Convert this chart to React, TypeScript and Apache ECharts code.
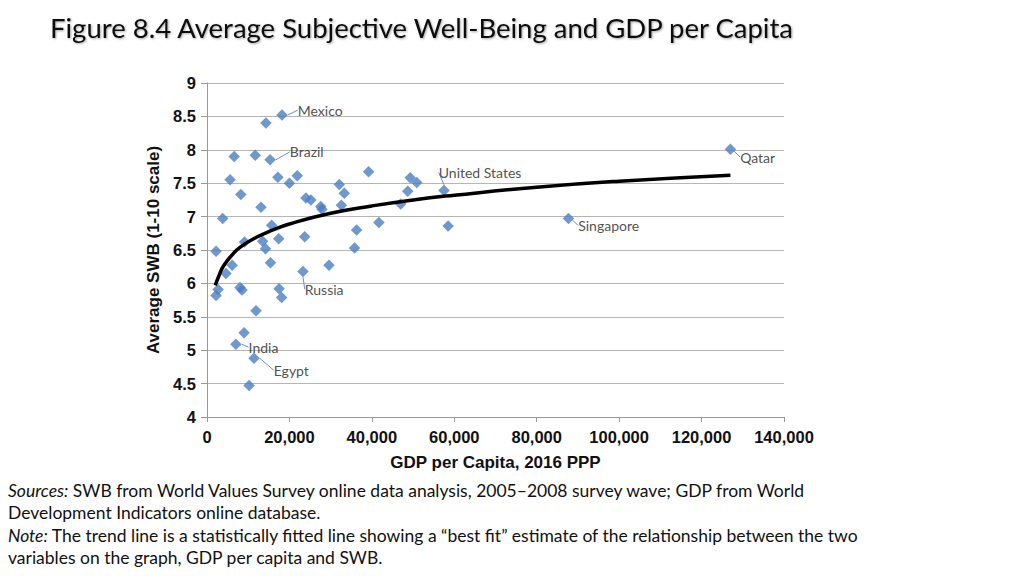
import React, { useEffect, useRef } from "react";
import * as echarts from "echarts";

const titleText = "Figure 8.4 Average Subjective Well-Being and GDP per Capita";
const xAxisName = "GDP per Capita, 2016 PPP";
const yAxisName = "Average SWB (1-10 scale)";

// GDP per capita (2016 PPP) for each country point
const gdp: number[] = [
  18200, 14300, 15300, 6600, 11700, 5600, 8200, 17200, 20000, 21900,
  39200, 3800, 13100, 24000, 25200, 27600, 27900, 32100, 33300, 32600,
  41700, 36300, 15700, 17400, 23700, 13500, 9100, 2200, 14200, 35800,
  6100, 4600, 15400, 23300, 29600, 2700, 2200, 8000, 8500, 17500,
  18100, 11900, 9000, 7000, 11400, 10200, 49300, 50900, 48700, 47000,
  57500, 58500, 127000, 87700,
];
// Average SWB for each country point
const swb: number[] = [
  8.52, 8.4, 7.85, 7.9, 7.92, 7.55, 7.33, 7.59, 7.5, 7.61,
  7.67, 6.97, 7.14, 7.28, 7.25, 7.15, 7.11, 7.48, 7.35, 7.17,
  6.91, 6.8, 6.87, 6.67, 6.7, 6.63, 6.62, 6.48, 6.52, 6.53,
  6.27, 6.15, 6.31, 6.18, 6.27, 5.91, 5.82, 5.94, 5.9, 5.92,
  5.79, 5.59, 5.26, 5.09, 4.88, 4.47, 7.58, 7.51, 7.38, 7.19,
  7.39, 6.86, 8.01, 6.97,
];
// Country names (empty = unlabelled)
const names: string[] = [
  "Mexico", "", "Brazil", "", "", "", "", "", "", "",
  "", "", "", "", "", "", "", "", "", "",
  "", "", "", "", "", "", "", "", "", "",
  "", "", "", "Russia", "", "", "", "", "", "",
  "", "", "", "India", "Egypt", "", "", "", "", "",
  "United States", "", "Qatar", "Singapore",
];

// Trend line
const trendX: number[] = [2000, 3000, 4000, 6000, 8000, 12000, 16000, 20000, 30000, 40000, 50000, 60000, 80000, 100000, 127000];
const trendY: number[] = [5.97, 6.13, 6.26, 6.42, 6.54, 6.69, 6.8, 6.89, 7.05, 7.16, 7.25, 7.32, 7.44, 7.53, 7.62];

const xTicks = { min: 0, max: 140000, interval: 20000 };
const yTicks = { min: 4, max: 9, interval: 0.5 };

const noteLines: string[] = [
  "{i|Sources:} SWB from World Values Survey online data analysis, 2005\u20132008 survey wave; GDP from World",
  "Development Indicators online database.",
  "{i|Note:} The trend line is a statistically fitted line showing a \u201cbest fit\u201d estimate of the relationship between the two",
  "variables on the graph, GDP per capita and SWB.",
];

const labelOffsets: Record<string, [number, number]> = {
  Mexico: [6, -5],
  Brazil: [10, -8],
  "United States": [-15, -18],
  Qatar: [0, 8],
  Singapore: [0, 7],
  Russia: [-8, 18],
  India: [3, 3],
  Egypt: [10, 12],
};

export default function App() {
  const ref = useRef<HTMLDivElement>(null);
  useEffect(() => {
    if (!ref.current) return;
    const chart = echarts.init(ref.current, null, { renderer: "svg" });
    const pts = gdp.map((g, i) =>
      names[i]
        ? {
            value: [g, swb[i]],
            name: names[i],
            label: { show: true },
            labelLine: { show: true, lineStyle: { color: "#6b8fc6", width: 1 } },
          }
        : { value: [g, swb[i]], name: "", label: { show: false }, labelLine: { show: false } }
    );
    const axisLabelStyle = {
      fontFamily: "Liberation Sans, Arial, sans-serif",
      fontWeight: "bold" as const,
      fontSize: 16.5,
      color: "#111",
    };
    const notesFont = 17.5;
    chart.setOption({
      animation: false,
      backgroundColor: "#fff",
      grid: { left: 207, right: 240, top: 83, bottom: 159 },
      xAxis: {
        type: "value",
        min: xTicks.min,
        max: xTicks.max,
        interval: xTicks.interval,
        name: xAxisName,
        nameLocation: "middle",
        nameGap: 37,
        nameTextStyle: { ...axisLabelStyle, fontSize: 17 },
        axisLine: { show: true, lineStyle: { color: "#999" } },
        axisTick: { show: true, length: 5, lineStyle: { color: "#999" } },
        splitLine: { show: false },
        axisLabel: {
          ...axisLabelStyle,
          margin: 11,
          formatter: (v: number) => v.toLocaleString("en-US"),
        },
      },
      yAxis: {
        type: "value",
        min: yTicks.min,
        max: yTicks.max,
        interval: yTicks.interval,
        name: yAxisName,
        nameLocation: "middle",
        nameGap: 38,
        nameRotate: 90,
        nameTextStyle: { ...axisLabelStyle, fontSize: 17 },
        axisLine: { show: true, lineStyle: { color: "#999" } },
        axisTick: { show: true, length: 6, lineStyle: { color: "#999" } },
        splitLine: { show: true, lineStyle: { color: "#b5b5b5", width: 1 } },
        axisLabel: { ...axisLabelStyle, margin: 11 },
      },
      series: [
        {
          type: "line",
          data: trendX.map((x, i) => [x, trendY[i]]),
          smooth: true,
          symbol: "none",
          lineStyle: { color: "#000", width: 3.5 },
          z: 3,
        },
        {
          type: "scatter",
          data: pts,
          symbol: "diamond",
          symbolSize: 11.5,
          itemStyle: { color: "#4a7ec2" },
          z: 2,
          label: {
            show: false,
            position: "right",
            distance: 4,
            formatter: (p: any) => p.name || "",
            fontFamily: "Lato, sans-serif",
            fontSize: 14,
            color: "#222",
          },
          labelLayout: (p: any) => {
            const n = names[p.dataIndex];
            const o = labelOffsets[n];
            if (!o) return {};
            return { dx: o[0], dy: o[1] };
          },
        },
      ],
      graphic: [
        {
          type: "text",
          left: 50,
          top: 13,
          style: {
            text: titleText,
            fontFamily: "Lato, sans-serif",
            fontSize: 27.5,
            fill: "#111",
            textShadowColor: "rgba(0,0,0,0.35)",
            textShadowBlur: 2,
            textShadowOffsetX: 1,
            textShadowOffsetY: 1,
          },
        },
        ...noteLines.map((t, i) => ({
          type: "text",
          left: 8,
          top: 481 + i * 22.5,
          style: {
            text: t,
            fontFamily: "Lato, sans-serif",
            fontSize: notesFont,
            fill: "#111",
            rich: {
              i: { fontStyle: "italic", fontFamily: "Lato, sans-serif", fontSize: notesFont, fill: "#111" },
            },
          },
        })),
      ],
    });
    return () => chart.dispose();
  }, []);
  return (
    <div
      ref={ref}
      style={{ position: "fixed", left: 0, top: 0, width: 1024, height: 576, background: "#fff" }}
    />
  );
}
